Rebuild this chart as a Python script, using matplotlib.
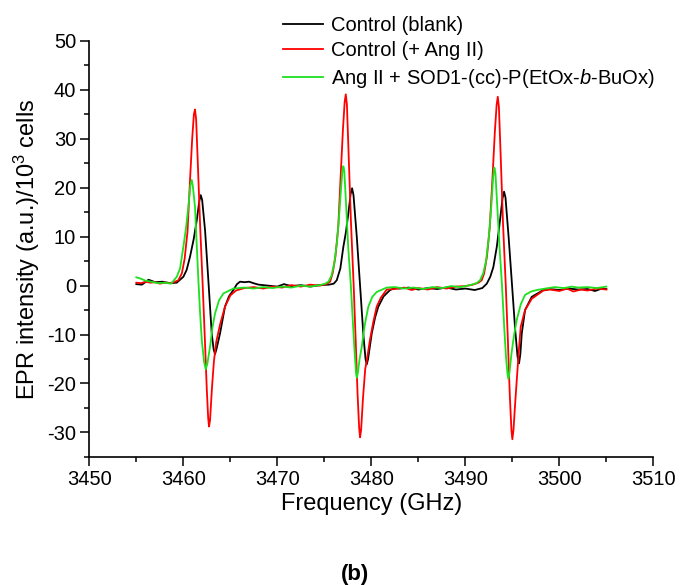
import matplotlib
matplotlib.use('Agg')
import matplotlib.pyplot as plt
from matplotlib.ticker import MultipleLocator

plt.rcParams['font.family'] = ['Liberation Sans', 'DejaVu Sans']
plt.rcParams['mathtext.fontset'] = 'custom'
plt.rcParams['mathtext.rm'] = 'Liberation Sans'
plt.rcParams['mathtext.it'] = 'Liberation Sans:italic'
plt.rcParams['axes.unicode_minus'] = False

black_x = [3455.0, 3455.6, 3456.3, 3457.0, 3457.8, 3458.6, 3459.3, 3460.0, 3460.35, 3460.71,
           3461.1, 3461.43, 3461.7, 3461.85, 3462.0, 3462.31, 3462.66, 3463.02, 3463.22, 3463.37,
           3463.52, 3463.9, 3464.43, 3464.85, 3465.32, 3465.7, 3466.03, 3466.5, 3467.0, 3467.45,
           3468.0, 3469.0, 3470.0, 3470.7, 3471.5, 3472.5, 3473.5, 3474.5, 3475.5, 3476.0,
           3476.32, 3476.7, 3477.02, 3477.3, 3477.55, 3477.8, 3477.95, 3478.1, 3478.45, 3478.8,
           3479.15, 3479.38, 3479.51, 3479.65, 3480.04, 3480.4, 3480.74, 3481.3, 3481.99, 3482.5,
           3483.0, 3484.0, 3485.0, 3486.0, 3487.0, 3488.0, 3489.0, 3490.0, 3491.0, 3491.8,
           3492.28, 3492.65, 3492.98, 3493.35, 3493.69, 3493.95, 3494.12, 3494.27, 3494.6, 3494.97,
           3495.3, 3495.55, 3495.71, 3495.85, 3496.0, 3496.35, 3497.06, 3498.3, 3499.0, 3500.0,
           3501.0, 3502.0, 3503.0, 3503.8, 3504.5, 3505.0]
black_y = [0.3, 0.2, 1.2, 0.7, 0.8, 0.5, 0.6, 1.8, 3.2, 5.9,
           9.5, 13.4, 17.3, 18.5, 17.5, 11.3, 1.1, -9.8, -13.0, -14.0,
           -13.0, -9.8, -4.3, -2.2, -0.9, 0.3, 0.8, 0.7, 0.8, 0.5,
           0.2, 0.0, -0.2, 0.3, -0.1, 0.1, -0.2, 0.1, 0.2, 0.4,
           1.1, 3.5, 7.9, 11.0, 14.7, 18.8, 19.9, 18.5, 10.0, 0.0,
           -10.0, -15.0, -16.1, -15.0, -9.8, -6.5, -4.3, -2.2, -0.9, -0.5,
           -0.6, -0.4, -0.8, -0.5, -0.7, -0.4, -0.8, -0.6, -0.9, -0.5,
           0.4, 1.8, 3.8, 8.0, 13.4, 17.8, 19.2, 18.0, 10.0, 0.0,
           -9.0, -14.5, -15.9, -14.0, -9.8, -5.0, -2.3, -0.9, -0.7, -0.9,
           -0.6, -0.8, -0.7, -1.1, -0.6, -0.7]

red_x = [3455.0, 3455.5, 3456.0, 3456.5, 3457.0, 3457.5, 3458.0, 3458.5, 3459.0, 3459.47,
         3459.84, 3460.14, 3460.44, 3460.71, 3460.94, 3461.12, 3461.24, 3461.36, 3461.54, 3461.79,
         3462.06, 3462.29, 3462.49, 3462.64, 3462.73, 3462.84, 3463.04, 3463.25, 3463.5, 3463.9,
         3464.43, 3465.0, 3465.6, 3466.5, 3467.5, 3468.5, 3469.5, 3470.5, 3471.5, 3472.5,
         3473.5, 3474.5, 3475.2, 3475.61, 3475.88, 3476.18, 3476.48, 3476.75, 3476.98, 3477.16,
         3477.28, 3477.4, 3477.58, 3477.83, 3478.12, 3478.33, 3478.53, 3478.7, 3478.8, 3478.91,
         3479.11, 3479.35, 3479.5, 3479.86, 3480.2, 3480.57, 3481.0, 3481.64, 3482.5, 3483.5,
         3484.3, 3485.0, 3486.0, 3487.0, 3488.0, 3489.0, 3490.0, 3490.8, 3491.4, 3491.74,
         3492.0, 3492.3, 3492.6, 3492.9, 3493.14, 3493.33, 3493.45, 3493.57, 3493.75, 3494.0,
         3494.3, 3494.52, 3494.72, 3494.9, 3495.0, 3495.12, 3495.3, 3495.47, 3495.7, 3495.89,
         3496.35, 3497.06, 3498.3, 3499.0, 3500.0, 3500.8, 3501.5, 3502.3, 3503.0, 3504.0,
         3505.0]
red_y = [0.6, 0.5, 0.8, 0.6, 0.7, 0.4, 0.6, 0.5, 0.7, 1.1,
         2.5, 5.5, 11.0, 21.6, 30.0, 35.0, 36.0, 34.0, 25.0, 12.0,
         0.0, -11.0, -21.0, -27.0, -28.8, -27.5, -21.0, -15.5, -11.5, -8.0,
         -4.3, -2.0, -1.0, -0.5, -0.3, -0.6, -0.2, -0.4, 0.1, -0.2,
         0.2, 0.0, 0.3, 0.8, 2.5, 6.0, 12.0, 23.0, 32.0, 37.5,
         39.1, 37.0, 27.0, 13.0, 0.0, -11.0, -22.0, -29.0, -31.0, -29.5,
         -23.0, -17.0, -15.5, -11.0, -7.5, -4.3, -2.5, -0.8, -0.7, -0.4,
         -0.9, -0.5, -0.8, -0.3, -0.6, -0.2, -0.1, 0.2, 0.6, 1.1,
         2.5, 6.0, 12.0, 22.5, 31.5, 37.0, 38.6, 36.5, 27.0, 13.0,
         0.0, -11.0, -22.0, -29.5, -31.4, -29.5, -24.0, -19.3, -13.0, -8.4,
         -5.0, -2.7, -1.0, -0.8, -1.1, -0.6, -1.2, -0.8, -1.0, -0.6,
         -0.8]

green_x = [3455.0, 3455.5, 3456.0, 3456.6, 3457.3, 3458.0, 3458.7, 3459.3, 3459.65, 3460.0,
           3460.3, 3460.53, 3460.75, 3460.89, 3461.0, 3461.24, 3461.42, 3461.6, 3461.78, 3461.96,
           3462.2, 3462.38, 3462.55, 3462.84, 3463.1, 3463.37, 3463.8, 3464.26, 3465.32, 3466.5,
           3467.5, 3468.5, 3469.5, 3470.5, 3471.5, 3472.5, 3473.5, 3474.5, 3475.1, 3475.43,
           3475.75, 3476.05, 3476.35, 3476.6, 3476.8, 3476.93, 3477.02, 3477.12, 3477.3, 3477.55,
           3477.82, 3478.05, 3478.25, 3478.38, 3478.45, 3478.55, 3478.75, 3478.98, 3479.3, 3479.68,
           3480.1, 3480.57, 3481.64, 3482.5, 3483.5, 3484.5, 3485.5, 3486.5, 3487.5, 3488.5,
           3489.5, 3490.5, 3491.2, 3491.56, 3491.9, 3492.2, 3492.5, 3492.75, 3492.95, 3493.09,
           3493.2, 3493.4, 3493.65, 3493.9, 3494.12, 3494.32, 3494.48, 3494.57, 3494.68, 3494.9,
           3495.15, 3495.47, 3495.9, 3496.35, 3497.0, 3497.6, 3498.5, 3499.5, 3500.5, 3501.3,
           3502.0, 3503.0, 3504.0, 3505.0]
green_y = [1.7, 1.4, 1.0, 0.8, 0.5, 0.6, 0.4, 1.8, 3.5, 7.9,
           12.0, 16.1, 20.5, 21.6, 20.5, 16.1, 8.5, 1.1, -5.5, -11.1,
           -15.5, -17.1, -16.0, -12.5, -8.5, -5.7, -3.0, -1.6, -0.6, -0.4,
           -0.6, -0.3, -0.5, -0.2, -0.4, 0.0, -0.2, 0.1, 0.4, 0.8,
           2.0, 4.5, 9.0, 15.0, 20.5, 23.5, 24.4, 23.5, 17.0, 7.5,
           0.0, -8.0, -14.5, -18.0, -18.8, -18.0, -15.0, -12.5, -8.0, -4.3,
           -2.3, -1.3, -0.4, -0.3, -0.6, -0.4, -0.7, -0.3, -0.5, -0.1,
           -0.3, 0.1, 0.5, 1.1, 2.5, 5.0, 10.0, 16.0, 22.0, 24.1,
           23.0, 16.0, 7.5, 0.0, -8.0, -14.5, -18.0, -19.1, -18.0, -14.0,
           -10.5, -7.0, -3.8, -1.9, -1.2, -0.9, -0.6, -0.3, -0.5, -0.2,
           -0.4, -0.3, -0.5, -0.2]

labels = ['Control (blank)', 'Control (+ Ang II)', r'Ang II + SOD1-(cc)-P(EtOx-$\it{b}$-BuOx)']

fig = plt.figure(figsize=(6.82, 5.85), dpi=100)
ax = fig.add_axes([0.131, 0.219, 0.827, 0.711])

ax.plot(black_x, black_y, color='black', lw=1.3, label=labels[0])
ax.plot(red_x, red_y, color='#ff0000', lw=1.3, label=labels[1])
ax.plot(green_x, green_y, color='#1ee01e', lw=1.3, label=labels[2])

ax.set_xlim(3450, 3510)
ax.set_ylim(-35, 50)
ax.set_xticks(range(3450, 3511, 10))
ax.set_yticks(range(-30, 51, 10))
ax.xaxis.set_minor_locator(MultipleLocator(5))
ax.yaxis.set_minor_locator(MultipleLocator(5))
ax.tick_params(which='major', length=6.5, width=1.1, labelsize=14.5, direction='out', pad=3)
ax.tick_params(which='minor', length=3.5, width=1.1, direction='out')
for s in ['top', 'right']:
    ax.spines[s].set_visible(False)
for s in ['left', 'bottom']:
    ax.spines[s].set_linewidth(1.2)

ax.set_xlabel('Frequency (GHz)', fontsize=17, labelpad=3)
ax.set_ylabel(r'EPR intensity (a.u.)/10$^{3}$ cells', fontsize=17, labelpad=4)

fig.legend(loc='upper left', bbox_to_anchor=(0.415, 0.973), frameon=False, fontsize=14.5,
           handlelength=2.0, handletextpad=0.4, labelspacing=0.33, borderaxespad=0, borderpad=0)

fig.text(0.52, 0.018, '(b)', fontsize=16, fontweight='bold', ha='center', va='center')

fig.savefig('out.png', dpi=100)
